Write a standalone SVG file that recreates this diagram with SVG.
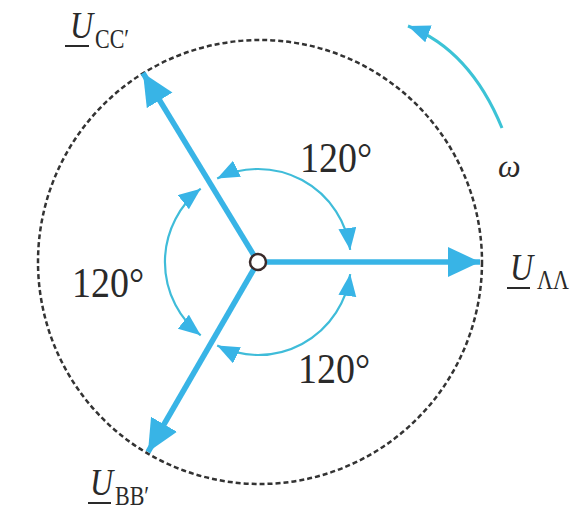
<svg xmlns="http://www.w3.org/2000/svg" width="585" height="511" viewBox="0 0 585 511">
<style>
.ph{stroke:#38b4e6;stroke-width:5.5;fill:none}
.arc{stroke:#3fbcd9;stroke-width:2.2;fill:none}
.lbl{font-family:"Liberation Serif","Times New Roman",serif;fill:#2a2a2a}
.it{font-style:italic}
.ul{stroke:#2a2a2a;stroke-width:2}
</style>
<defs>
<marker id="big" markerUnits="userSpaceOnUse" markerWidth="34" markerHeight="32" refX="32" refY="15" orient="auto">
<path d="M0,0 L32,15 L0,30 Z" fill="#38b4e6"/>
</marker>
<marker id="sm" markerUnits="userSpaceOnUse" markerWidth="24" markerHeight="20" refX="22" refY="9" orient="auto-start-reverse">
<path d="M0,0 L22,9 L0,18 Z" fill="#38b4e6"/>
</marker>
</defs>
<rect width="585" height="511" fill="#ffffff"/>
<g id="circle-bg">
<circle cx="260" cy="262" r="222" fill="none" stroke="#333" stroke-width="2.5" stroke-dasharray="5,3"/>
</g>
<g id="connectors">
<line class="ph" x1="258" y1="262" x2="480" y2="262" marker-end="url(#big)"/>
<line class="ph" x1="258" y1="262" x2="143" y2="73" marker-end="url(#big)"/>
<line class="ph" x1="258" y1="262" x2="148" y2="452" marker-end="url(#big)"/>
<path class="arc" d="M217.2,178.4 A93,93 0 0 1 350.2,249.9" marker-start="url(#sm)" marker-end="url(#sm)"/>
<path class="arc" d="M350.2,274.1 A93,93 0 0 1 217.2,345.6" marker-start="url(#sm)" marker-end="url(#sm)"/>
<path class="arc" d="M200.7,335.3 A93,93 0 0 1 200.7,188.7" marker-start="url(#sm)" marker-end="url(#sm)"/>
<path d="M502,128 Q470,50 408,26" stroke="#3cc3d6" stroke-width="3" fill="none" marker-end="url(#sm)"/>
</g>
<g id="origin">
<circle cx="258" cy="262" r="8" fill="#fff" stroke="#3a2a2a" stroke-width="2.5"/>
</g>
<g id="label-cc">
<text class="lbl it" font-size="32" transform="translate(70,38) scale(1,1.2)">U</text>
<line class="ul" x1="65" y1="46" x2="89" y2="46"/>
<text class="lbl" font-size="22" transform="translate(95,48) scale(1,1.2)">CC′</text>
</g>
<g id="label-aa">
<text class="lbl it" font-size="32" transform="translate(510,280) scale(1,1.2)">U</text>
<line class="ul" x1="507" y1="288" x2="530" y2="288"/>
<text class="lbl" font-size="22" transform="translate(537,289) scale(1,1.2)">ΛΛ</text>
</g>
<g id="label-bb">
<text class="lbl it" font-size="32" transform="translate(90,495) scale(1,1.2)">U</text>
<line class="ul" x1="88" y1="503" x2="111" y2="503"/>
<text class="lbl" font-size="22" transform="translate(115,505) scale(1,1.2)">BB′</text>
</g>
<g id="angle-top">
<text class="lbl" font-size="38" transform="translate(300,172) scale(1,1.12)">120°</text>
</g>
<g id="angle-left">
<text class="lbl" font-size="38" transform="translate(72,297) scale(1,1.12)">120°</text>
</g>
<g id="angle-bottom">
<text class="lbl" font-size="38" transform="translate(298,383) scale(1,1.12)">120°</text>
</g>
<g id="omega">
<text class="lbl it" font-size="32" x="498" y="177">ω</text>
</g>
</svg>
